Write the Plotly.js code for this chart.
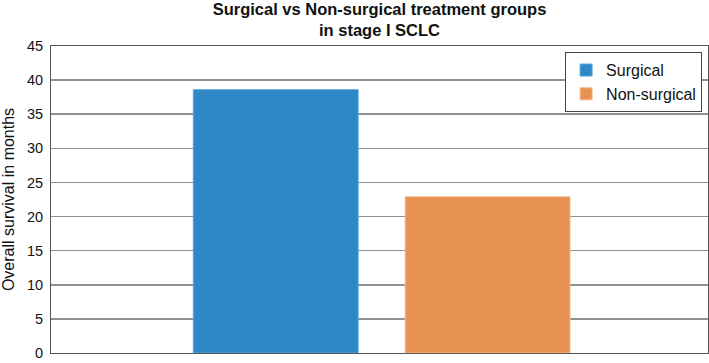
<!DOCTYPE html>
<html>
<head>
<meta charset="utf-8">
<script src="https://cdn.plot.ly/plotly-3.0.1.min.js"></script>
<style>html,body{margin:0;padding:0;background:#fff;}#chart{width:709px;height:363px;}</style>
</head>
<body>
<div id="chart"></div>
<script>
const categories = ["Stage I SCLC"];
const seriesNames = ["Surgical", "Non-surgical"];
const surgicalValues = [38.6];
const nonSurgicalValues = [22.9];
const yTickValues = [0, 5, 10, 15, 20, 25, 30, 35, 40, 45];

const colors = ["#2E87C7", "#E79152"];
const lineColors = ["#5DA6DA", "#F6B98A"];

const traces = [
  {type: "bar", name: seriesNames[0], x: categories, y: surgicalValues,
   marker: {color: colors[0], line: {color: lineColors[0], width: 1}}, hoverinfo: "none"},
  {type: "bar", name: seriesNames[1], x: categories, y: nonSurgicalValues,
   marker: {color: colors[1], line: {color: lineColors[1], width: 1}}, hoverinfo: "none"}
];

const layout = {
  width: 709, height: 363,
  margin: {l: 51, r: 1, t: 46, b: 10, pad: 0},
  paper_bgcolor: "#fff", plot_bgcolor: "#fff",
  font: {family: "Liberation Sans, Arial, sans-serif", color: "#111", size: 14},
  title: {text: "<b>Surgical vs Non-surgical treatment groups<br>in stage I SCLC</b>",
          xref: "paper", x: 0.5, xanchor: "center", y: 0.959, yanchor: "middle",
          font: {size: 16.5, family: "Liberation Sans, Arial, sans-serif", color: "#111"}},
  barmode: "group",
  bargap: 0.355,
  bargroupgap: 0.222,
  showlegend: true,
  legend: {x: 0.991, y: 0.98, xanchor: "right", yanchor: "top",
           bgcolor: "#fff", bordercolor: "#444", borderwidth: 1,
           font: {size: 16, color: "#111"}, tracegroupgap: 0, itemwidth: 30},
  xaxis: {type: "category", range: [-0.5033, 0.4967], showticklabels: false, ticks: "", showgrid: false,
          showline: true, linecolor: "#555", linewidth: 1, mirror: true, zeroline: false, fixedrange: true},
  yaxis: {range: [0, 45], tickvals: yTickValues, ticktext: yTickValues.map(String),
          showgrid: true, gridcolor: "#909090", gridwidth: 1.5,
          showline: true, linecolor: "#555", linewidth: 1, mirror: true, zeroline: false,
          ticks: "", ticklen: 0, ticklabelstandoff: 4, tickfont: {size: 14.5, color: "#111"},
          title: {text: "Overall survival in months", standoff: 8, font: {size: 16, color: "#111"}},
          fixedrange: true}
};

Plotly.newPlot("chart", traces, layout, {displayModeBar: false, staticPlot: true});
</script>
</body>
</html>
